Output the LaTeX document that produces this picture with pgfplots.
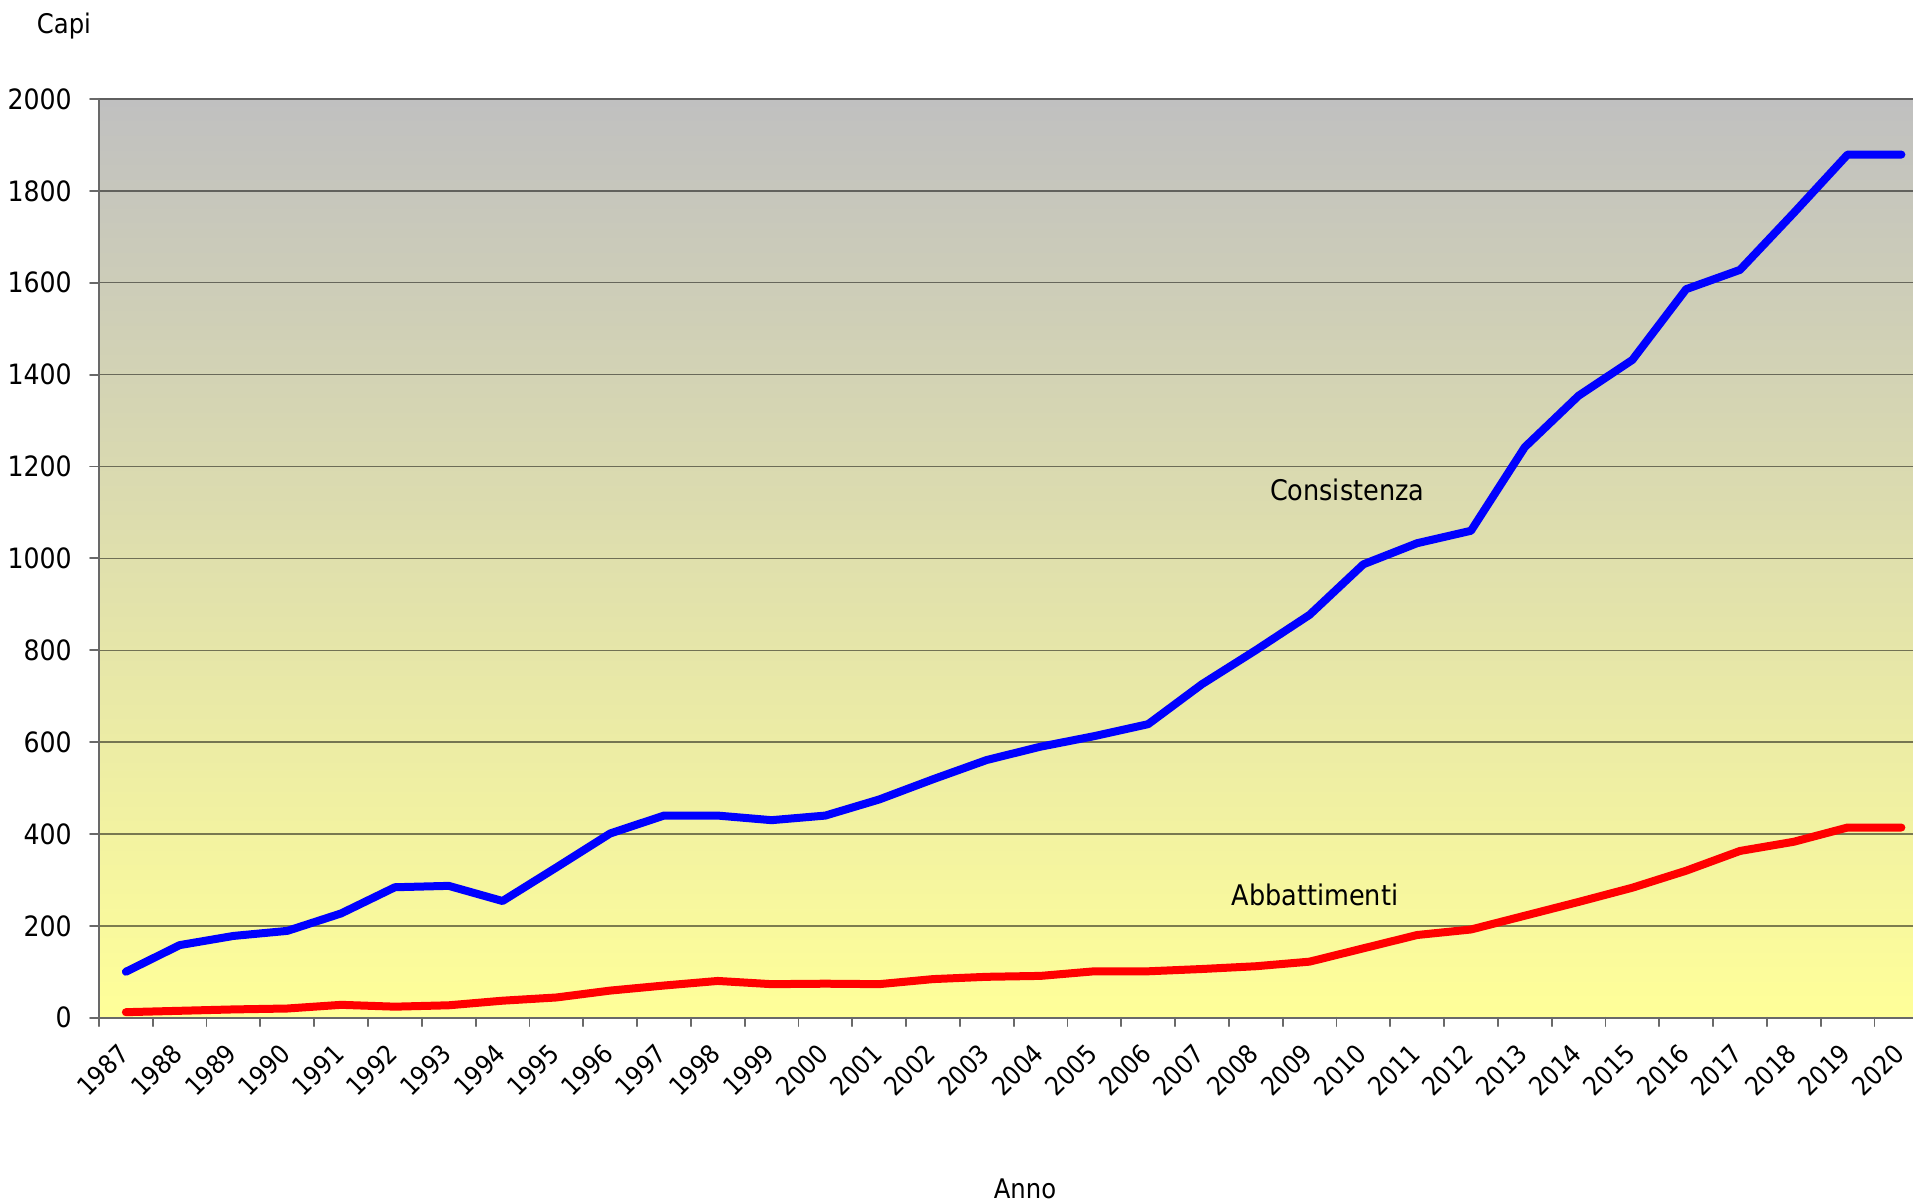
\documentclass[border=0pt]{standalone}
\usepackage{pgfplots}
\pgfplotsset{compat=1.18}
\usepackage{fontspec}
\setmainfont{DejaVu Sans Condensed}

\definecolor{bgtop}{RGB}{192,192,192}
\definecolor{bgbot}{RGB}{255,255,153}
\definecolor{axgray}{RGB}{105,105,105}

\begin{document}
\begin{tikzpicture}
\begin{axis}[
  name=ax,
  at={(0,0)}, anchor=south west,
  scale only axis,
  width=907pt, height=459.35pt,
  xmin=1986.5, xmax=2020.216,
  ymin=0, ymax=2000,
  axis lines=left,
  axis line style={-, draw=axgray, line width=1pt},
  axis background/.style={shade, top color=bgtop, bottom color=bgbot},
  xtick={1987,...,2020},
  xticklabels={1987,1988,1989,1990,1991,1992,1993,1994,1995,1996,1997,1998,
    1999,2000,2001,2002,2003,2004,2005,2006,2007,2008,2009,2010,2011,2012,
    2013,2014,2015,2016,2017,2018,2019,2020},
  minor xtick={1986.5,1987.5,...,2020.5},
  major x tick style={draw=none},
  ytick={0,200,...,2000},
  tick align=outside,
  major tick length=4.5pt,
  minor tick length=4.2pt,
  tick style={draw=axgray, line width=0.9pt},
  ymajorgrids,
  major grid style={draw=black, opacity=0.5, line width=0.7pt},
  /pgf/number format/1000 sep={},
  /pgf/number format/assume math mode=true,
  yticklabel style={font=\fontsize{14}{17}\selectfont, inner sep=0pt},
  xticklabel style={font=\fontsize{13}{16}\selectfont, inner sep=0pt,
    xshift=-4.5pt, rotate=45, anchor=north east},
  xticklabel shift=7.5pt,
  yticklabel shift=9pt,
  line join=round, line cap=round,
]
\addplot[draw={rgb,255:red,0;green,0;blue,255}, line width=4pt, mark=none] coordinates {
  (1987,100) (1988,158) (1989,178) (1990,189) (1991,227) (1992,284)
  (1993,287) (1994,254) (1995,327) (1996,401) (1997,440) (1998,440)
  (1999,430) (2000,440) (2001,475) (2002,519) (2003,561) (2004,590)
  (2005,613) (2006,639) (2007,726) (2008,800) (2009,877) (2010,987)
  (2011,1033) (2012,1060) (2013,1242) (2014,1354) (2015,1432) (2016,1586)
  (2017,1628) (2018,1752) (2019,1879) (2020,1879)
};
\addplot[draw={rgb,255:red,255;green,0;blue,0}, line width=4pt, mark=none] coordinates {
  (1987,12) (1988,15) (1989,18) (1990,20) (1991,28) (1992,24)
  (1993,27) (1994,37) (1995,44) (1996,59) (1997,70) (1998,80)
  (1999,73) (2000,74) (2001,73) (2002,84) (2003,89) (2004,91)
  (2005,101) (2006,101) (2007,106) (2008,112) (2009,122) (2010,151)
  (2011,180) (2012,192) (2013,222) (2014,252) (2015,283) (2016,320)
  (2017,363) (2018,383) (2019,414) (2020,414)
};
\node[font=\fontsize{14.2}{17}\selectfont] at (axis cs:2009.7,1149) {Consistenza};
\node[font=\fontsize{14.2}{17}\selectfont] at (axis cs:2009.1,267) {Abbattimenti};
\end{axis}
\node[anchor=base, font=\fontsize{13.5}{16}\selectfont] at ([xshift=-17.5pt, yshift=32.5pt]ax.north west) {Capi};
\node[anchor=base, font=\fontsize{13.5}{16}\selectfont] at ([xshift=463pt, yshift=-90.65pt]ax.south west) {Anno};
\pgfresetboundingbox
\path[use as bounding box] ([xshift=-49.5pt, yshift=-93.15pt]ax.south west) rectangle ([yshift=49.5pt]ax.north east);
\end{tikzpicture}
\end{document}
